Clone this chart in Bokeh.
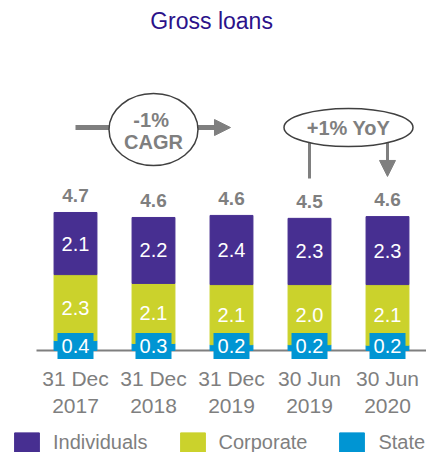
import numpy as np
from bokeh.plotting import figure
from bokeh.layouts import column
from bokeh.models import (FixedTicker, Arrow, NormalHead, Legend, LegendItem,
                          ColumnDataSource, Range1d)
from bokeh.core.properties import value
from bokeh.embed import file_html
from bokeh.resources import INLINE

# ---- data (EUR bn) ----
categories = ["31 Dec\n2017", "31 Dec\n2018", "31 Dec\n2019", "30 Jun\n2019", "30 Jun\n2020"]
individuals = [2.12, 2.25, 2.36, 2.26, 2.32]
corporate = [2.25, 2.05, 2.05, 2.05, 2.07]
state = [0.34, 0.24, 0.20, 0.20, 0.18]
individuals_labels = ["2.1", "2.2", "2.4", "2.3", "2.3"]
corporate_labels = ["2.3", "2.1", "2.1", "2.0", "2.1"]
state_labels = ["0.4", "0.3", "0.2", "0.2", "0.2"]
total_labels = ["4.7", "4.6", "4.6", "4.5", "4.6"]
series_names = ["Individuals", "Corporate", "State"]
title_text = "Gross loans"
cagr_text = ["-1%", "CAGR"]
yoy_text = "+1% YoY"

PURPLE = "#472F91"
YELLOW = "#CBD22C"
BLUE = "#0095D3"
GRAY = "#7F7F7F"
FONT = value("Liberation Sans")

xs = list(range(len(categories)))
st = np.array(state)
co = np.array(corporate)
ind = np.array(individuals)
totals = st + co + ind

p = figure(width=426, height=430, output_backend="svg", toolbar_location=None,
           x_range=Range1d(-0.9615, 4.5), y_range=Range1d(-0.341, 11.945),
           min_border_left=0, min_border_right=0, min_border_top=0, min_border_bottom=70,
           y_axis_location=None)
p.outline_line_color = None
p.xgrid.visible = False
p.ygrid.visible = False
p.background_fill_color = "white"

ax = p.xaxis[0]
ax.ticker = FixedTicker(ticks=xs)
ax.major_label_overrides = {i: c for i, c in enumerate(categories)}
ax.axis_line_color = None
ax.major_tick_line_color = None
ax.minor_tick_line_color = None
ax.major_label_standoff = 0
ax.major_label_text_font = "Liberation Sans"
ax.major_label_text_font_size = "21px"
ax.major_label_text_color = GRAY

# title
p.text(x=[1.744], y=[11.26], text=[title_text], text_font=FONT, text_font_size="23px",
       text_color="#2B128A", text_align="center", text_baseline="middle")

# baseline
p.segment(x0=[-0.5], y0=[0], x1=[4.5], y1=[0], line_color=GRAY, line_width=2)

source = ColumnDataSource(dict(x=xs, state=state, corporate=corporate, individuals=individuals))
rs = p.vbar_stack(["state", "corporate", "individuals"], x="x", width=0.55,
                  color=[BLUE, YELLOW, PURPLE], source=source)

# segment labels
p.text(x=xs, y=st + co + ind / 2, text=individuals_labels, text_font=FONT, text_font_size="20px",
       text_color="white", text_align="center", text_baseline="middle")
p.text(x=xs, y=st + co / 2, text=corporate_labels, text_font=FONT, text_font_size="20px",
       text_color="white", text_align="center", text_baseline="middle")
box_y = [0.15] * len(xs)
p.rect(x=xs, y=box_y, width=36, height=26, width_units="screen", height_units="screen",
       fill_color=BLUE, line_color=None)
p.text(x=xs, y=box_y, text=state_labels, text_font=FONT, text_font_size="20px",
       text_color="white", text_align="center", text_baseline="middle")
# totals
p.text(x=xs, y=totals, text=total_labels, y_offset=-17, text_font=FONT, text_font_size="19px",
       text_font_style="bold", text_color=GRAY, text_align="center", text_baseline="middle")

# CAGR annotation
ARR_Y = 7.61
p.add_layout(Arrow(end=NormalHead(size=16, fill_color=GRAY, line_color=GRAY),
                   x_start=0, y_start=ARR_Y, x_end=1.987, y_end=ARR_Y,
                   line_color=GRAY, line_width=5, level="underlay"))
p.ellipse(x=[1.0], y=[7.54], width=89, height=72, width_units="screen", height_units="screen",
          fill_color="white", line_color="#404040", line_width=1.5)
p.text(x=[0.97, 1.0], y=[7.88, 7.10], text=cagr_text, text_font=FONT, text_font_size="20px",
       text_font_style="bold", text_color=GRAY, text_align="center", text_baseline="middle")

# YoY annotation
p.segment(x0=[3], y0=[7.61], x1=[3], y1=[5.87], line_color=GRAY, line_width=3)
p.add_layout(Arrow(end=NormalHead(size=16, fill_color=GRAY, line_color=GRAY),
                   x_start=4, y_start=7.61, x_end=4, y_end=5.94,
                   line_color=GRAY, line_width=3, level="underlay"))
p.ellipse(x=[3.5], y=[7.61], width=129, height=38, width_units="screen", height_units="screen",
          fill_color="white", line_color="#404040", line_width=1.5)
p.text(x=[3.5], y=[7.58], text=[yoy_text], text_font=FONT, text_font_size="20px",
       text_font_style="bold", text_color=GRAY, text_align="center", text_baseline="middle")

# legend strip (cut at the bottom edge like the reference)
p2 = figure(width=426, height=22, output_backend="svg", toolbar_location=None,
            x_range=Range1d(0, 1), y_range=Range1d(0, 1),
            min_border_left=0, min_border_right=0, min_border_top=0, min_border_bottom=0,
            x_axis_location=None, y_axis_location=None)
p2.outline_line_color = None
p2.xgrid.visible = False
p2.ygrid.visible = False
leg_colors = [PURPLE, YELLOW, BLUE]
leg_renderers = [p2.rect(x=[5], y=[5], width=0.1, height=0.1, fill_color=c, line_color=c)
                 for c in leg_colors]
legend = Legend(items=[LegendItem(label=n, renderers=[r]) for n, r in zip(series_names, leg_renderers)],
                orientation="horizontal", location=(11, -2), glyph_width=31, glyph_height=24,
                label_standoff=11, spacing=29, padding=0, margin=0, border_line_color=None,
                background_fill_alpha=0, label_text_font="Liberation Sans",
                label_text_font_size="20px", label_text_color=GRAY)
p2.add_layout(legend)

layout = column(p, p2, spacing=0)
open("out.html", "w").write(file_html(layout, INLINE))
